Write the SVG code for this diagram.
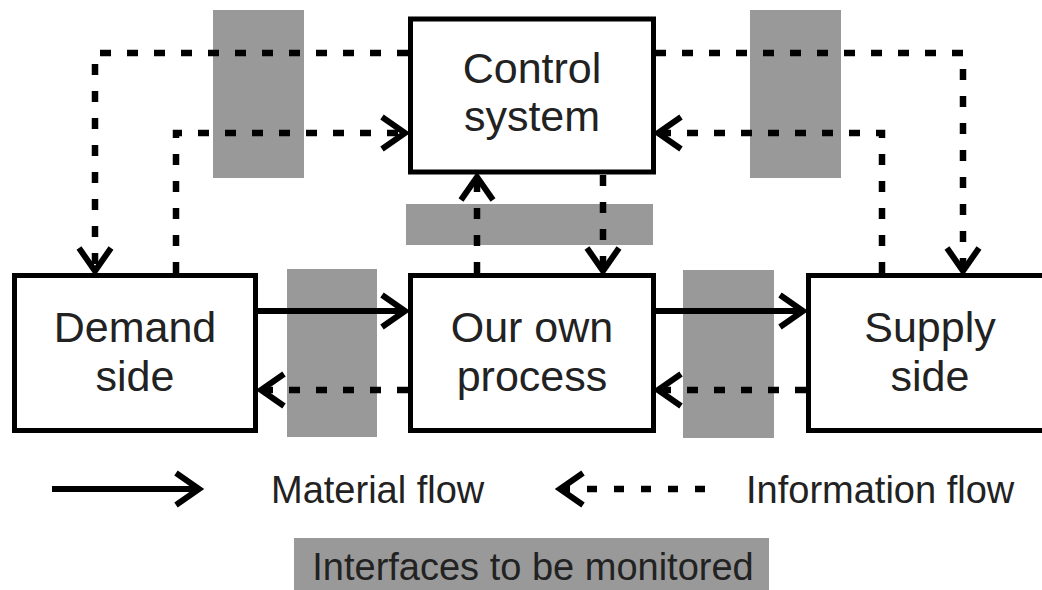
<svg xmlns="http://www.w3.org/2000/svg" width="1042" height="590" viewBox="0 0 1042 590">
<style>
.band{fill:#999999}
.box{fill:#ffffff;stroke:#000;stroke-width:5}
.lbl{font-family:"Liberation Sans",Arial,sans-serif;font-size:43px;fill:#222;text-anchor:middle}
.leg{font-family:"Liberation Sans",Arial,sans-serif;font-size:38px;fill:#222}
.mat{fill:none;stroke:#000;stroke-width:6}
.info{fill:none;stroke:#000;stroke-width:6.5;stroke-dasharray:11 16}
</style>
<defs>
<marker id="chev" markerUnits="userSpaceOnUse" orient="auto" refX="0" refY="0" markerWidth="30" markerHeight="40" overflow="visible">
<path d="M-23,-16 L0,0 L-23,16" fill="none" stroke="#000" stroke-width="6"/>
</marker>
</defs>
<g id="bands">
<rect class="band" x="213" y="10" width="91" height="168"/>
<rect class="band" x="750" y="10" width="91" height="168"/>
<rect class="band" x="406" y="204" width="247" height="41"/>
<rect class="band" x="287" y="269" width="90" height="168"/>
<rect class="band" x="683" y="270" width="91" height="168"/>
</g>
<g id="connectors">
<path class="info" d="M408,53 H95 V271" marker-end="url(#chev)"/>
<path class="info" d="M176,273 V133 H405" marker-end="url(#chev)"/>
<path class="info" d="M655,53 H963 V271" marker-end="url(#chev)"/>
<path class="info" d="M882,273 V133 H658" marker-end="url(#chev)"/>
<path class="info" d="M477,273 V177" marker-end="url(#chev)"/>
<path class="info" d="M603,175 V271" marker-end="url(#chev)"/>
<path class="mat" d="M258,311 H405" marker-end="url(#chev)"/>
<path class="mat" d="M656,311 H803" marker-end="url(#chev)"/>
<path class="info" d="M408,390 H261" marker-end="url(#chev)"/>
<path class="info" d="M806,390 H658" marker-end="url(#chev)"/>
</g>
<g id="control">
<rect class="box" x="410.5" y="19" width="243" height="153"/>
<text class="lbl" x="532" y="83">Control</text>
<text class="lbl" x="532" y="131">system</text>
</g>
<g id="demand">
<rect class="box" x="14.5" y="275.5" width="241" height="155"/>
<text class="lbl" x="135" y="342">Demand</text>
<text class="lbl" x="135" y="391">side</text>
</g>
<g id="own">
<rect class="box" x="410.5" y="275.5" width="243" height="155"/>
<text class="lbl" x="532" y="342">Our own</text>
<text class="lbl" x="532" y="391">process</text>
</g>
<g id="supply">
<rect class="box" x="808.5" y="275.5" width="250" height="155"/>
<text class="lbl" x="930" y="342">Supply</text>
<text class="lbl" x="930" y="391">side</text>
</g>
<g id="legend">
<path class="mat" d="M52,489 H199" marker-end="url(#chev)"/>
<text class="leg" x="271" y="503">Material flow</text>
<path class="info" d="M705,489 H560" style="stroke-dasharray:10 17" marker-end="url(#chev)"/>
<text class="leg" x="746" y="503">Information flow</text>
<rect class="band" x="294" y="538" width="475" height="52"/>
<text class="leg" x="533" y="580" text-anchor="middle">Interfaces to be monitored</text>
</g>
</svg>
